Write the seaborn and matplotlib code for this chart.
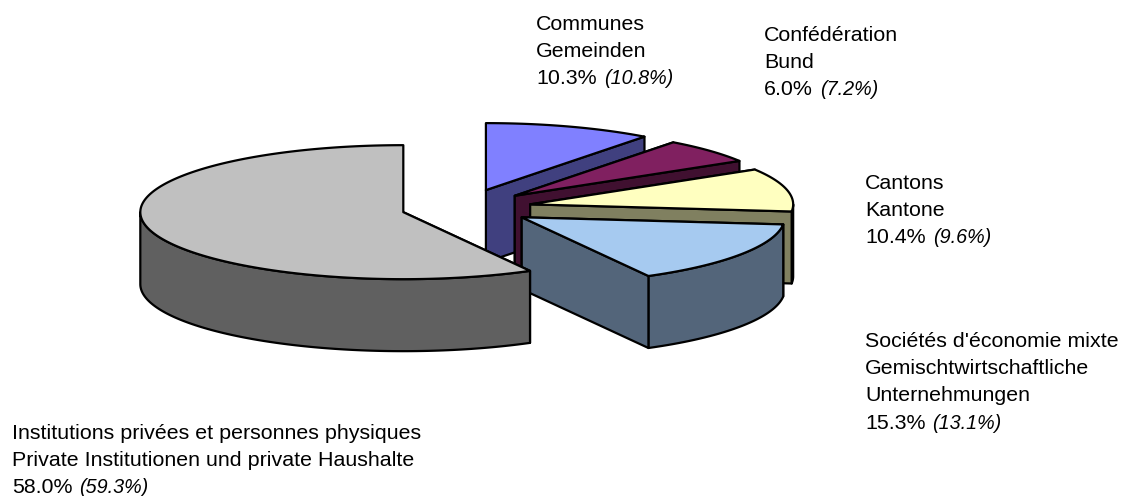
import numpy as np
import matplotlib
matplotlib.use("Agg")
import matplotlib.pyplot as plt
import seaborn as sns

# shares in pie order, counter clockwise from 12 o'clock
names = ["Privees", "Mixte", "Cantons", "Confederation", "Communes"]
shares = [58.0, 15.3, 10.4, 6.0, 10.3]
top_colors = ["#C0C0C0", "#A6CAF0", "#FFFFC0", "#802060", "#8080FF"]
side_colors = ["#606060", "#53657A", "#808060", "#401030", "#40407F"]

label_lines = [
    ["Institutions privées et personnes physiques", "Private Institutionen und private Haushalte"],
    ["Sociétés d'économie mixte", "Gemischtwirtschaftliche", "Unternehmungen"],
    ["Cantons", "Kantone"],
    ["Confédération", "Bund"],
    ["Communes", "Gemeinden"],
]
label_now = ["58.0%", "15.3%", "10.4%", "6.0%", "10.3%"]
label_before = ["(59.3%)", "(13.1%)", "(9.6%)", "(7.2%)", "(10.8%)"]

# layout in pixels
cx, cy = 467, 208
rx, ry = 263, 67
depth = 72
explode = 0.25
nudge = [(0, 0), (0, 0), (-1, 0), (-1, -1), (-2, -2)]
label_pos = [(12, 439), (865, 347), (865, 189), (764, 41), (536, 30)]
line_h = 27.2

sns.set_theme(style="white")
plt.rcParams['font.family'] = ['Liberation Sans', 'DejaVu Sans']

fig, ax = plt.subplots(figsize=(11.24, 4.96), dpi=100)
fig.subplots_adjust(0, 0, 1, 1)
ax.set_xlim(0, 1124)
ax.set_ylim(496, 0)
ax.axis("off")

edges = 90 + np.cumsum([0] + shares) * 3.6
line = dict(edgecolor="black", linewidth=1.6, joinstyle="round")


def rim(angles, x0, y0):
    t = np.radians(angles)
    return x0 + rx * np.cos(t), y0 - ry * np.sin(t)


def cut_face(angle, x0, y0, color):
    ex, ey = rim(np.array([angle]), x0, y0)
    ax.fill([x0, ex[0], ex[0], x0], [y0, ey[0], ey[0] + depth, y0 + depth], facecolor=color, **line)


# back slices first, the big grey one ends up on top
for i in reversed(range(len(shares))):
    a0, a1 = edges[i], edges[i + 1]
    mid = np.radians((a0 + a1) / 2)
    x0 = cx + explode * rx * np.cos(mid) + nudge[i][0]
    y0 = cy - explode * ry * np.sin(mid) + nudge[i][1]

    # cut face on the far side of the slice
    if np.cos(np.radians(a1)) > 1e-6:
        cut_face(a1, x0, y0, side_colors[i])

    # outer wall, front half of the rim only
    for lo, hi in [(180, 360), (540, 720)]:
        w0, w1 = max(a0, lo), min(a1, hi)
        if w1 > w0:
            wx, wy = rim(np.linspace(w0, w1, 120), x0, y0)
            ax.fill(np.r_[wx, wx[::-1]], np.r_[wy, wy[::-1] + depth], facecolor=side_colors[i], **line)

    if np.cos(np.radians(a0)) > 1e-6:
        cut_face(a0, x0, y0, side_colors[i])

    tx, ty = rim(np.linspace(a0, a1, 200), x0, y0)
    ax.fill(np.r_[x0, tx], np.r_[y0, ty], facecolor=top_colors[i], **line)

# labels, last line is regular + italic
renderer = fig.canvas.get_renderer()
for i, (x, y) in enumerate(label_pos):
    for n, txt in enumerate(label_lines[i]):
        ax.text(x, y + n * line_h, txt, fontsize=15.4, color="black", va="baseline")
    y_last = y + len(label_lines[i]) * line_h
    t = ax.text(x, y_last, label_now[i], fontsize=15.4, color="black", va="baseline")
    x_end = t.get_window_extent(renderer).x1
    ax.text(x_end + 7, y_last, label_before[i], fontsize=14.2, style="italic", color="black", va="baseline")

fig.savefig("out.png", dpi=100, facecolor="white")
